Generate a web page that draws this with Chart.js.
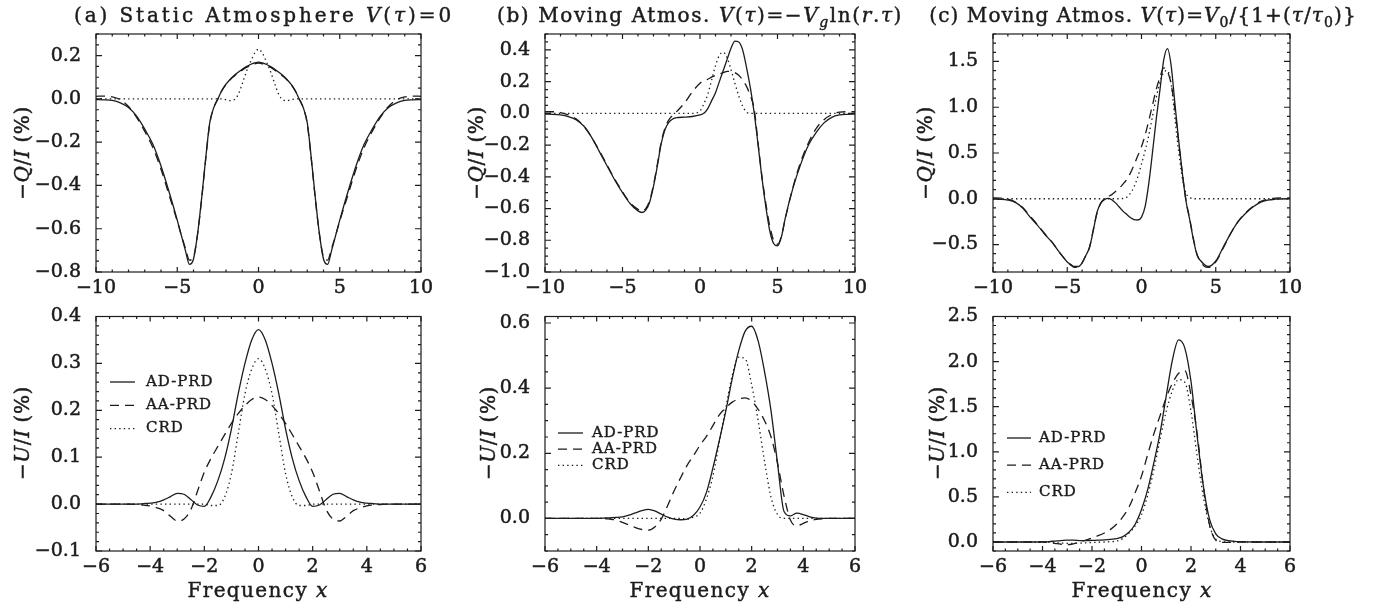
<!DOCTYPE html>
<html>
<head>
<meta charset="utf-8">
<title>Stokes Q and U profiles</title>
<script src="https://cdn.jsdelivr.net/npm/chart.js@4.4.1/dist/chart.umd.min.js"></script>
<style>
    body { margin: 0; width: 1385px; height: 604px; position: relative; overflow: hidden; background: #fff; color: #1c1c1c; font-family: "DejaVu Serif", serif; }
    canvas { position: absolute; }
    .title, .ylab, .xlab { position: absolute; white-space: nowrap; line-height: 1; -webkit-text-stroke: 0.45px #1c1c1c; }
    .title { transform: translate(-50%, -50%); font-size: 20px; letter-spacing: 1.6px; }
    .title sub { font-size: 70%; vertical-align: -0.35em; line-height: 0; }
    .ylab { transform: translate(-50%, -50%) rotate(-90deg); font-size: 20px; letter-spacing: 0.6px; }
    .xlab { transform: translate(-50%, -50%); font-size: 20px; letter-spacing: 1.4px; }
</style>
</head>
<body>
<canvas id="qStatic" width="445" height="300" style="left:0;top:0"></canvas>
<canvas id="qLog" width="445" height="300" style="left:445px;top:0"></canvas>
<canvas id="qRat" width="495" height="300" style="left:890px;top:0"></canvas>
<canvas id="uStatic" width="445" height="304" style="left:0;top:300px"></canvas>
<canvas id="uLog" width="445" height="304" style="left:445px;top:300px"></canvas>
<canvas id="uRat" width="495" height="304" style="left:890px;top:300px"></canvas>

<div class="title" style="left:264px;top:15px;letter-spacing:2.9px">(a) Static Atmosphere <i>V</i>(<i>τ</i>)=0</div>
<div class="title" style="left:700px;top:15px">(b) Moving Atmos. <i>V</i>(<i>τ</i>)=−<i>V</i><sub><i>g</i></sub>ln(<i>r</i>.<i>τ</i>)</div>
<div class="title" style="left:1143px;top:15px;letter-spacing:1.1px">(c) Moving Atmos. <i>V</i>(<i>τ</i>)=<i>V</i><sub>0</sub>/{1+(<i>τ</i>/<i>τ</i><sub>0</sub>)}</div>

<div class="ylab" style="left:22px;top:153px">−<i>Q</i>/<i>I</i> (%)</div>
<div class="ylab" style="left:476px;top:153px">−<i>Q</i>/<i>I</i> (%)</div>
<div class="ylab" style="left:925px;top:153px">−<i>Q</i>/<i>I</i> (%)</div>
<div class="ylab" style="left:22px;top:433px">−<i>U</i>/<i>I</i> (%)</div>
<div class="ylab" style="left:488px;top:433px">−<i>U</i>/<i>I</i> (%)</div>
<div class="ylab" style="left:937px;top:433px">−<i>U</i>/<i>I</i> (%)</div>

<div class="xlab" style="left:258px;top:590px">Frequency <i>x</i></div>
<div class="xlab" style="left:700px;top:590px">Frequency <i>x</i></div>
<div class="xlab" style="left:1142px;top:590px">Frequency <i>x</i></div>

<script>
    const seriesNames = ["AD-PRD", "AA-PRD", "CRD"];

    // (a) static atmosphere, -Q/I
    const xQStatic = [-10, -9.5, -9, -8.5, -8, -7.5, -7, -6.5, -6, -5.5, -5, -4.75, -4.5, -4.25, -4, -3.75, -3.5, -3.25, -3, -2.75, -2.5, -2.25, -2, -1.75, -1.5, -1.25, -1, -0.75, -0.5, -0.25, 0, 0.25, 0.5, 0.75, 1, 1.25, 1.5, 1.75, 2, 2.25, 2.5, 2.75, 3, 3.25, 3.5, 3.75, 4, 4.25, 4.5, 4.75, 5, 5.5, 6, 6.5, 7, 7.5, 8, 8.5, 9, 9.5, 10];
    const qStaticAD = [-0.003, -0.004, -0.007, -0.018, -0.04, -0.08, -0.14, -0.21, -0.31, -0.43, -0.56, -0.63, -0.70, -0.765, -0.74, -0.625, -0.46, -0.275, -0.11, -0.04, 0.0, 0.04, 0.068, 0.09, 0.108, 0.123, 0.137, 0.149, 0.159, 0.166, 0.17, 0.166, 0.159, 0.149, 0.137, 0.123, 0.108, 0.09, 0.068, 0.04, 0.0, -0.04, -0.11, -0.275, -0.46, -0.625, -0.74, -0.765, -0.70, -0.63, -0.56, -0.43, -0.31, -0.21, -0.14, -0.08, -0.04, -0.018, -0.007, -0.004, -0.003];
    const qStaticAA = [0.012, 0.013, 0.009, -0.004, -0.035, -0.085, -0.15, -0.225, -0.325, -0.445, -0.565, -0.63, -0.69, -0.745, -0.73, -0.625, -0.465, -0.28, -0.115, -0.04, 0.0, 0.038, 0.066, 0.088, 0.105, 0.12, 0.133, 0.145, 0.155, 0.162, 0.165, 0.162, 0.155, 0.145, 0.133, 0.12, 0.105, 0.088, 0.066, 0.038, 0.0, -0.04, -0.115, -0.28, -0.465, -0.625, -0.73, -0.745, -0.69, -0.63, -0.565, -0.445, -0.325, -0.225, -0.15, -0.085, -0.035, -0.004, 0.009, 0.013, 0.012];
    const qStaticCRD = [0, 0, 0, 0, 0, 0, 0, 0, 0, 0, 0, 0, 0, 0, 0, 0, 0, 0, 0, 0, 0, 0, -0.004, -0.008, -0.004, 0.02, 0.07, 0.125, 0.17, 0.21, 0.23, 0.21, 0.17, 0.125, 0.07, 0.02, -0.004, -0.008, -0.004, 0, 0, 0, 0, 0, 0, 0, 0, 0, 0, 0, 0, 0, 0, 0, 0, 0, 0, 0, 0, 0, 0];

    // (b) V = -Vg ln(r.tau), -Q/I
    const xQLog = [-10, -9.5, -9, -8.5, -8, -7.5, -7, -6.5, -6, -5.5, -5, -4.5, -4, -3.75, -3.5, -3.25, -3, -2.75, -2.5, -2.25, -2, -1.75, -1.5, -1, -0.5, 0, 0.25, 0.5, 0.75, 1, 1.25, 1.5, 1.75, 2, 2.25, 2.5, 2.75, 3, 3.25, 3.5, 3.75, 4, 4.25, 4.5, 4.75, 5, 5.25, 5.5, 6, 6.5, 7, 7.5, 8, 8.5, 9, 9.5, 10];
    const qLogAD = [-0.005, -0.006, -0.01, -0.02, -0.04, -0.08, -0.15, -0.24, -0.33, -0.42, -0.50, -0.57, -0.615, -0.625, -0.61, -0.56, -0.46, -0.33, -0.19, -0.10, -0.055, -0.035, -0.027, -0.024, -0.02, -0.01, 0.0, 0.03, 0.08, 0.13, 0.2, 0.27, 0.34, 0.41, 0.455, 0.45, 0.40, 0.29, 0.16, 0.0, -0.2, -0.41, -0.59, -0.74, -0.82, -0.835, -0.78, -0.66, -0.47, -0.32, -0.2, -0.12, -0.06, -0.025, -0.01, -0.006, -0.005];
    const qLogAA = [0.01, 0.01, 0.005, -0.01, -0.035, -0.08, -0.15, -0.235, -0.325, -0.415, -0.495, -0.565, -0.605, -0.615, -0.60, -0.55, -0.45, -0.32, -0.18, -0.09, -0.04, -0.01, 0.012, 0.065, 0.135, 0.19, 0.205, 0.215, 0.228, 0.24, 0.247, 0.256, 0.265, 0.265, 0.257, 0.24, 0.21, 0.17, 0.11, 0.025, -0.19, -0.40, -0.57, -0.71, -0.80, -0.825, -0.775, -0.665, -0.465, -0.305, -0.185, -0.095, -0.04, -0.008, 0.008, 0.01, 0.01];
    const qLogCRD = [0, 0, 0, 0, 0, 0, 0, 0, 0, 0, 0, 0, 0, 0, 0, 0, 0, 0, 0, 0, 0, 0, 0, 0, 0, 0.015, 0.06, 0.12, 0.21, 0.30, 0.365, 0.385, 0.35, 0.275, 0.19, 0.11, 0.045, 0.008, 0, 0, 0, 0, 0, 0, 0, 0, 0, 0, 0, 0, 0, 0, 0, 0, 0, 0, 0];

    // (c) V = V0/(1+tau/tau0), -Q/I
    const xQRat = [-10, -9.5, -9, -8.5, -8, -7.5, -7, -6.5, -6, -5.5, -5, -4.75, -4.5, -4.25, -4, -3.75, -3.5, -3.25, -3, -2.75, -2.5, -2.25, -2, -1.75, -1.5, -1.25, -1, -0.75, -0.5, -0.25, 0, 0.25, 0.5, 0.75, 1, 1.25, 1.5, 1.75, 2, 2.25, 2.5, 2.75, 3, 3.25, 3.5, 3.75, 4, 4.25, 4.5, 5, 5.5, 6, 6.5, 7, 7.5, 8, 8.5, 9, 9.5, 10];
    const qRatAD = [-0.003, -0.006, -0.015, -0.04, -0.1, -0.2, -0.29, -0.39, -0.48, -0.59, -0.69, -0.72, -0.74, -0.74, -0.70, -0.62, -0.53, -0.35, -0.15, -0.05, -0.01, 0.005, -0.01, -0.045, -0.09, -0.135, -0.17, -0.205, -0.228, -0.232, -0.2, -0.08, 0.18, 0.52, 0.88, 1.2, 1.52, 1.64, 1.45, 1.04, 0.64, 0.28, -0.03, -0.23, -0.45, -0.62, -0.68, -0.72, -0.74, -0.68, -0.53, -0.38, -0.25, -0.16, -0.09, -0.04, -0.015, -0.005, -0.002, 0];
    const qRatAA = [0.01, 0.008, -0.005, -0.035, -0.095, -0.19, -0.285, -0.385, -0.48, -0.59, -0.69, -0.725, -0.75, -0.745, -0.70, -0.62, -0.53, -0.34, -0.16, -0.05, 0.0, 0.025, 0.045, 0.08, 0.115, 0.16, 0.21, 0.28, 0.37, 0.47, 0.57, 0.7, 0.86, 1.03, 1.2, 1.33, 1.43, 1.39, 1.25, 0.98, 0.62, 0.28, -0.02, -0.22, -0.44, -0.61, -0.69, -0.74, -0.75, -0.69, -0.54, -0.38, -0.25, -0.155, -0.085, -0.03, -0.005, 0.008, 0.01, 0.01];
    const qRatCRD = [0, 0, 0, 0, 0, 0, 0, 0, 0, 0, 0, 0, 0, 0, 0, 0, 0, 0, 0, 0, 0, 0, 0, 0, 0, 0.003, 0.015, 0.06, 0.13, 0.24, 0.38, 0.53, 0.7, 0.91, 1.11, 1.28, 1.38, 1.4, 1.25, 0.88, 0.52, 0.23, 0.06, 0.015, 0, 0, 0, 0, 0, 0, 0, 0, 0, 0, 0, 0, 0, 0, 0, 0];

    // bottom row, -U/I
    const xU = [-6, -5.75, -5.5, -5.25, -5, -4.75, -4.5, -4.25, -4, -3.75, -3.5, -3.25, -3, -2.75, -2.5, -2.25, -2, -1.75, -1.5, -1.25, -1, -0.75, -0.5, -0.25, 0, 0.25, 0.5, 0.75, 1, 1.25, 1.5, 1.75, 2, 2.25, 2.5, 2.75, 3, 3.25, 3.5, 3.75, 4, 4.25, 4.5, 4.75, 5, 5.25, 5.5, 5.75, 6];
    const uStaticAD = [0, 0, 0, 0, 0, 0, 0, 0.001, 0.002, 0.004, 0.009, 0.016, 0.023, 0.021, 0.01, -0.002, -0.005, 0.016, 0.05, 0.097, 0.16, 0.235, 0.30, 0.35, 0.372, 0.35, 0.30, 0.235, 0.16, 0.097, 0.05, 0.016, -0.005, -0.002, 0.01, 0.021, 0.023, 0.016, 0.009, 0.004, 0.002, 0.001, 0, 0, 0, 0, 0, 0, 0];
    const uStaticAA = [0, 0, 0, 0, 0, 0, -0.001, -0.002, -0.004, -0.008, -0.014, -0.026, -0.036, -0.032, -0.012, 0.028, 0.068, 0.098, 0.123, 0.148, 0.172, 0.193, 0.21, 0.223, 0.228, 0.223, 0.21, 0.193, 0.172, 0.148, 0.123, 0.098, 0.068, 0.028, -0.012, -0.032, -0.036, -0.026, -0.014, -0.008, -0.004, -0.002, -0.001, 0, 0, 0, 0, 0, 0];
    const uStaticCRD = [0, 0, 0, 0, 0, 0, 0, 0, 0, 0, 0, 0, 0, 0, 0, 0, 0, -0.003, -0.003, 0.015, 0.065, 0.15, 0.235, 0.288, 0.31, 0.288, 0.235, 0.15, 0.065, 0.015, -0.003, -0.003, 0, 0, 0, 0, 0, 0, 0, 0, 0, 0, 0, 0, 0, 0, 0, 0, 0];
    const uLogAD = [0, 0, 0, 0, 0, 0, 0, 0, 0, 0.001, 0.002, 0.003, 0.005, 0.01, 0.017, 0.024, 0.028, 0.023, 0.013, 0.004, -0.002, -0.004, -0.002, 0.01, 0.035, 0.08, 0.155, 0.24, 0.33, 0.43, 0.515, 0.575, 0.59, 0.545, 0.45, 0.33, 0.17, 0.022, 0.008, 0.016, 0.012, 0.005, 0.001, 0, 0, 0, 0, 0, 0];
    const uLogAA = [0, 0, 0, 0, 0, 0, 0, 0, 0, 0, -0.002, -0.005, -0.012, -0.02, -0.028, -0.034, -0.036, -0.026, -0.002, 0.04, 0.085, 0.125, 0.163, 0.193, 0.225, 0.252, 0.285, 0.318, 0.34, 0.357, 0.367, 0.37, 0.36, 0.335, 0.30, 0.25, 0.17, 0.07, -0.005, -0.023, -0.015, -0.007, -0.003, -0.001, 0, 0, 0, 0, 0];
    const uLogCRD = [0, 0, 0, 0, 0, 0, 0, 0, 0, 0, 0, 0, 0, 0, 0, 0, 0, 0, 0, 0, 0, 0, -0.002, 0.004, 0.016, 0.06, 0.13, 0.235, 0.34, 0.44, 0.495, 0.49, 0.41, 0.30, 0.175, 0.065, 0.012, 0, 0, 0, 0, 0, 0, 0, 0, 0, 0, 0, 0];
    const uRatAD = [0, 0, 0, 0, 0, 0, 0, 0, 0.002, 0.005, 0.01, 0.015, 0.02, 0.02, 0.016, 0.015, 0.018, 0.02, 0.024, 0.03, 0.038, 0.06, 0.11, 0.2, 0.36, 0.58, 0.88, 1.21, 1.62, 2.02, 2.24, 2.15, 1.78, 1.17, 0.62, 0.25, 0.09, 0.035, 0.015, 0.007, 0.003, 0.001, 0, 0, 0, 0, 0, 0, 0];
    const uRatAA = [0, 0, 0, 0, 0, 0, 0, 0, 0, -0.005, -0.015, -0.025, -0.03, -0.02, 0.0, 0.02, 0.045, 0.07, 0.1, 0.14, 0.2, 0.28, 0.39, 0.55, 0.73, 0.97, 1.2, 1.4, 1.6, 1.76, 1.87, 1.9, 1.63, 1.2, 0.61, 0.19, 0.02, -0.005, -0.005, -0.002, 0, 0, 0, 0, 0, 0, 0, 0, 0];
    const uRatCRD = [0, 0, 0, 0, 0, 0, 0, 0, 0, -0.003, -0.008, -0.012, -0.015, -0.015, -0.012, -0.01, -0.006, -0.003, 0, 0.004, 0.01, 0.04, 0.1, 0.18, 0.3, 0.52, 0.8, 1.14, 1.45, 1.68, 1.8, 1.77, 1.45, 0.95, 0.5, 0.18, 0.03, 0.005, 0, 0, 0, 0, 0, 0, 0, 0, 0, 0, 0];

    // tick labels
    const xQTicks = [-10, -5, 0, 5, 10];
    const xUTicks = [-6, -4, -2, 0, 2, 4, 6];
    const qStaticTicks = [-0.8, -0.6, -0.4, -0.2, 0, 0.2];
    const qLogTicks = [-1.0, -0.8, -0.6, -0.4, -0.2, 0, 0.2, 0.4];
    const qRatTicks = [-0.5, 0, 0.5, 1.0, 1.5];
    const uStaticTicks = [-0.1, 0, 0.1, 0.2, 0.3, 0.4];
    const uLogTicks = [0, 0.2, 0.4, 0.6];
    const uRatTicks = [0, 0.5, 1.0, 1.5, 2.0, 2.5];

    const ink = "#1c1c1c";
    const dashes = [[], [9, 6], [1.4, 3.2]];
    const tickFont = { family: "DejaVu Serif", size: 19, lineHeight: 1 };

    function fmt(v, digits) {
        return (v < -1e-9 ? "\u2212" : "") + Math.abs(v).toFixed(digits);
    }

    function eachStep(min, max, step, major, fn) {
        const first = Math.ceil(min / step - 1e-6);
        const last = Math.floor(max / step + 1e-6);
        for (let i = first; i <= last; i++) {
            const v = i * step;
            const r = v / major;
            fn(v, Math.abs(r - Math.round(r)) < 1e-6);
        }
    }

    // box with inward ticks on all four sides, like the original IDL plots
    const framePlugin = {
        id: "frame",
        afterDatasetsDraw(chart, args, opts) {
            const { ctx, chartArea: a } = chart;
            const sx = chart.scales.x;
            const sy = chart.scales.y;
            ctx.save();
            ctx.strokeStyle = ink;
            ctx.lineWidth = 1.2;
            ctx.setLineDash([]);
            ctx.strokeRect(a.left, a.top, a.right - a.left, a.bottom - a.top);
            ctx.beginPath();
            eachStep(sx.min, sx.max, opts.xMinor, opts.xMajor, (v, major) => {
                const px = sx.getPixelForValue(v);
                const len = major ? 5 : 2.5;
                ctx.moveTo(px, a.bottom); ctx.lineTo(px, a.bottom - len);
                ctx.moveTo(px, a.top); ctx.lineTo(px, a.top + len);
            });
            eachStep(sy.min, sy.max, opts.yMinor, opts.yMajor, (v, major) => {
                const py = sy.getPixelForValue(v);
                const len = major ? 6 : 3;
                ctx.moveTo(a.left, py); ctx.lineTo(a.left + len, py);
                ctx.moveTo(a.right, py); ctx.lineTo(a.right - len, py);
            });
            ctx.stroke();
            ctx.restore();
        }
    };

    const keyPlugin = {
        id: "lineKey",
        afterDraw(chart, args, opts) {
            const { ctx } = chart;
            ctx.save();
            ctx.font = "15px 'DejaVu Serif'";
            if ("letterSpacing" in ctx) ctx.letterSpacing = "1px";
            ctx.fillStyle = ink;
            ctx.strokeStyle = ink;
            ctx.lineWidth = 1.3;
            ctx.textBaseline = "middle";
            chart.data.datasets.forEach((ds, i) => {
                const y = opts.y0 + i * opts.dy;
                ctx.setLineDash(dashes[i]);
                ctx.beginPath();
                ctx.moveTo(opts.x0, y);
                ctx.lineTo(opts.x1, y);
                ctx.stroke();
                ctx.setLineDash([]);
                ctx.fillText(ds.label, opts.tx, y);
                ctx.lineWidth = 0.4;
                ctx.strokeText(ds.label, opts.tx, y);
                ctx.lineWidth = 1.3;
            });
            ctx.restore();
        }
    };

    function buildPanel(p) {
        const tickStyle = { font: tickFont, color: ink, textStrokeColor: ink, textStrokeWidth: 0.5, autoSkip: false };
        return new Chart(document.getElementById(p.id), {
            type: "line",
            data: {
                datasets: p.series.map((ys, i) => ({
                    label: seriesNames[i],
                    data: p.xs.map((x, k) => ({ x, y: ys[k] })),
                    borderColor: ink,
                    borderWidth: 1.3,
                    borderDash: dashes[i],
                    pointRadius: 0,
                    cubicInterpolationMode: "monotone",
                    fill: false
                }))
            },
            options: {
                responsive: false,
                animation: false,
                events: [],
                layout: { padding: p.pad },
                plugins: {
                    legend: { display: false },
                    tooltip: { enabled: false },
                    frame: { xMinor: p.xMinor, xMajor: p.xMajor, yMinor: p.yMinor, yMajor: p.yMajor },
                    lineKey: p.key || false
                },
                scales: {
                    x: {
                        type: "linear",
                        min: p.xMin,
                        max: p.xMax,
                        grid: { display: false },
                        border: { display: false },
                        afterBuildTicks: s => { s.ticks = p.xTicks.map(v => ({ value: v })); },
                        afterFit: s => { s.height = p.xAxisH; },
                        ticks: { ...tickStyle, padding: -1, maxRotation: 0, callback: v => fmt(v, 0) }
                    },
                    y: {
                        type: "linear",
                        min: p.yMin,
                        max: p.yMax,
                        grid: { display: false },
                        border: { display: false },
                        afterBuildTicks: s => { s.ticks = p.yTicks.map(v => ({ value: v })); },
                        afterFit: s => { s.width = p.yAxisW; },
                        ticks: { ...tickStyle, padding: 7, callback: v => fmt(v, 1) }
                    }
                }
            },
            plugins: [framePlugin, keyPlugin]
        });
    }

    const topPad = (right) => ({ top: 34, right, left: 0, bottom: 0 });
    const bottomPad = (right) => ({ top: 15, right, left: 0, bottom: 0 });

    buildPanel({ id: "qStatic", xs: xQStatic, series: [qStaticAD, qStaticAA, qStaticCRD], xMin: -10, xMax: 10, xTicks: xQTicks, xMajor: 5, xMinor: 1,
        yMin: -0.8, yMax: 0.3, yTicks: qStaticTicks, yMajor: 0.2, yMinor: 0.05, pad: topPad(24), yAxisW: 96, xAxisH: 28 });
    buildPanel({ id: "qLog", xs: xQLog, series: [qLogAD, qLogAA, qLogCRD], xMin: -10, xMax: 10, xTicks: xQTicks, xMajor: 5, xMinor: 1,
        yMin: -1.0, yMax: 0.5, yTicks: qLogTicks, yMajor: 0.2, yMinor: 0.05, pad: topPad(35), yAxisW: 100, xAxisH: 28 });
    buildPanel({ id: "qRat", xs: xQRat, series: [qRatAD, qRatAA, qRatCRD], xMin: -10, xMax: 10, xTicks: xQTicks, xMajor: 5, xMinor: 1,
        yMin: -0.8, yMax: 1.8, yTicks: qRatTicks, yMajor: 0.5, yMinor: 0.1, pad: topPad(95), yAxisW: 103, xAxisH: 28 });

    buildPanel({ id: "uStatic", xs: xU, series: [uStaticAD, uStaticAA, uStaticCRD], xMin: -6, xMax: 6, xTicks: xUTicks, xMajor: 2, xMinor: 0.5,
        yMin: -0.1, yMax: 0.4, yTicks: uStaticTicks, yMajor: 0.1, yMinor: 0.02, pad: bottomPad(24), yAxisW: 96, xAxisH: 53,
        key: { x0: 110, x1: 135, tx: 146, y0: 82, dy: 23.3 } });
    buildPanel({ id: "uLog", xs: xU, series: [uLogAD, uLogAA, uLogCRD], xMin: -6, xMax: 6, xTicks: xUTicks, xMajor: 2, xMinor: 0.5,
        yMin: -0.1, yMax: 0.62, yTicks: uLogTicks, yMajor: 0.2, yMinor: 0.05, pad: bottomPad(35), yAxisW: 100, xAxisH: 53,
        key: { x0: 113, x1: 138, tx: 147, y0: 133, dy: 16.2 } });
    buildPanel({ id: "uRat", xs: xU, series: [uRatAD, uRatAA, uRatCRD], xMin: -6, xMax: 6, xTicks: xUTicks, xMajor: 2, xMinor: 0.5,
        yMin: -0.1, yMax: 2.5, yTicks: uRatTicks, yMajor: 0.5, yMinor: 0.1, pad: bottomPad(95), yAxisW: 103, xAxisH: 53,
        key: { x0: 117, x1: 141, tx: 149, y0: 138, dy: 27.2 } });
</script>
</body>
</html>
